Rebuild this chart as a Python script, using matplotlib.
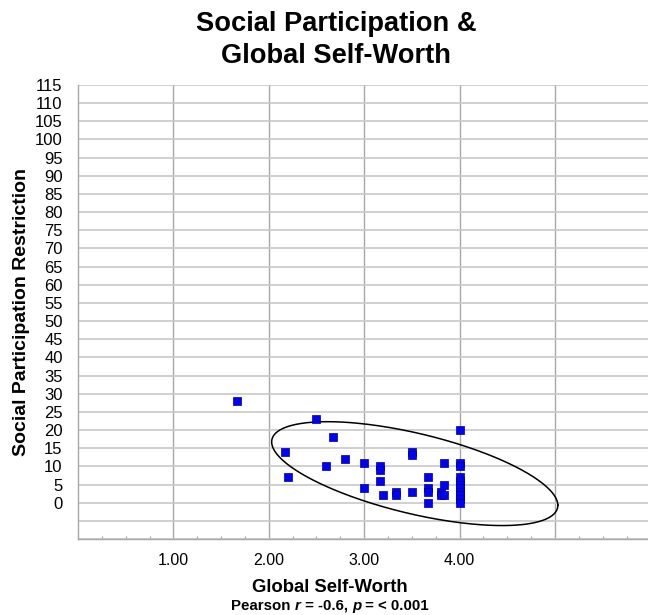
import numpy as np
import matplotlib
matplotlib.use("Agg")
import matplotlib.pyplot as plt
from matplotlib.ticker import MultipleLocator

# ---------------- data ----------------
global_self_worth = [1.67, 2.50, 2.67, 2.17, 2.80, 2.60, 3.00, 2.20, 3.00,
                     3.17, 3.17, 3.17, 3.20, 3.33, 3.33, 3.50, 3.50, 3.50,
                     3.67, 3.67, 3.67, 3.67, 3.80, 3.80, 3.84, 3.84, 3.84,
                     4.00, 4.00, 4.00, 4.00, 4.00, 4.00, 4.00, 4.00, 4.00,
                     4.00, 4.00]
participation_restriction = [28, 23, 18, 14, 12, 10, 11, 7, 4,
                             10, 9, 6, 2, 3, 2, 14, 13, 3,
                             7, 4, 3, 0, 3, 2, 2, 11, 5,
                             20, 11, 10, 7, 6, 5, 4, 3, 2,
                             1, 0]

x_major_ticks = [1, 2, 3, 4, 5]
x_major_labels = ["1.00", "2.00", "3.00", "4.00", ""]
y_ticks = list(range(-10, 120, 5))
y_labels = [str(v) if v >= 0 else "" for v in y_ticks]

# ellipse annotation (data units): centre, half-extent in x and y, correlation
ell_center = (3.53, 8.0)
ell_half_x = 1.50
ell_half_y = 14.3
ell_rho = -0.61

title_text = "Social Participation &\nGlobal Self-Worth"
x_label = "Global Self-Worth"
y_label = "Social Participation Restriction"

# ---------------- figure ----------------
plt.rcParams['font.family'] = ['Liberation Sans', 'DejaVu Sans']
W, H = 648, 615
fig = plt.figure(figsize=(W / 100, H / 100), dpi=100)
ax = fig.add_axes([78 / W, 1 - 539 / H, 1 - 78 / W, (539 - 85) / H])

ax.set_xlim(0, 5.975)
ax.set_ylim(-10, 115)

# grid
ax.set_yticks(y_ticks)
ax.set_yticklabels(y_labels, fontsize=12)
ax.set_xticks(x_major_ticks)
ax.set_xticklabels(x_major_labels, fontsize=11.5)
ax.xaxis.set_minor_locator(MultipleLocator(0.25))
ax.grid(axis='y', which='major', color='#c8c8c8', linewidth=1.2, zorder=0)
ax.grid(axis='x', which='major', color='#a8a8a8', linewidth=1.0, zorder=0)
ax.tick_params(axis='y', which='both', length=0, pad=11)
ax.tick_params(axis='x', which='major', length=0, pad=10)
ax.tick_params(axis='x', which='minor', direction='in', length=2.5,
               width=0.8, color='#a0a0a0')

for s in ['top', 'right']:
    ax.spines[s].set_visible(False)
for s in ['left', 'bottom']:
    ax.spines[s].set_color('#a8a8a8')
    ax.spines[s].set_linewidth(1.0)

# points
ax.scatter(global_self_worth, participation_restriction, marker='s', s=30,
           facecolor='#0000ff', edgecolor='#000080', linewidth=0.5, zorder=4)

# ellipse
t = np.linspace(0, 2 * np.pi, 400)
ex = ell_center[0] + ell_half_x * np.cos(t)
ey = ell_center[1] + ell_half_y * (ell_rho * np.cos(t) + np.sqrt(1 - ell_rho ** 2) * np.sin(t))
ax.plot(ex, ey, color='black', linewidth=1.1, zorder=3)

# titles
fig.text(336 / W, 1 - 40 / H, title_text, ha='center', va='center',
         fontsize=19.6, fontweight='bold', linespacing=1.3)
fig.text(330 / W, 1 - 587 / H, x_label, ha='center', va='center',
         fontsize=13.3, fontweight='bold')
fig.text(22 / W, 1 - 312 / H, y_label, ha='center', va='center',
         rotation=90, fontsize=14, fontweight='bold')

# Pearson line with bold-italic r and p
parts = [("Pearson ", 'normal'), ("r", 'italic'), (" = -0.6, ", 'normal'),
         ("p", 'italic'), (" = < 0.001", 'normal')]
renderer = fig.canvas.get_renderer()
texts = []
widths = []
for s, st in parts:
    tt = fig.text(0, 0, s, fontsize=10.8, fontweight='bold', style=st,
                  ha='left', va='center')
    bb = tt.get_window_extent(renderer=renderer)
    texts.append(tt)
    widths.append(bb.width)
total = sum(widths)
x0 = 330 - total / 2
yc = 1 - 606 / H
for tt, w in zip(texts, widths):
    tt.set_position((x0 / W, yc))
    x0 += w

fig.savefig("out.png", dpi=100)
